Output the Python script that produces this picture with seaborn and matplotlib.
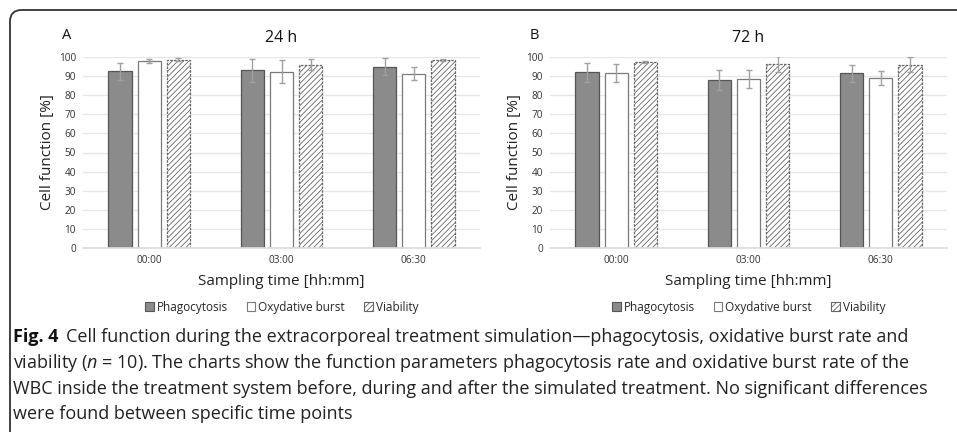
import numpy as np
import pandas as pd
import matplotlib.pyplot as plt
import seaborn as sns
from matplotlib.patches import FancyBboxPatch, Patch

sns.set_theme(style='white')
plt.rcParams['font.family'] = ['Open Sans', 'DejaVu Sans']
plt.rcParams['hatch.color'] = '#9a9a9a'
plt.rcParams['hatch.linewidth'] = 0.6
plt.rcParams['mathtext.fontset'] = 'custom'
plt.rcParams['mathtext.it'] = 'Open Sans:italic'
plt.rcParams['mathtext.rm'] = 'Open Sans'

times = ['00:00', '03:00', '06:30']
measures = ['Phagocytosis', 'Oxydative burst', 'Viability']

# 24 h panel: means and sd per measure, ordered by time
phago_24 = [92.5, 93.0, 95.0]
phago_24_sd = [4.5, 6.0, 4.5]
oxy_24 = [98.0, 92.3, 91.3]
oxy_24_sd = [1.0, 6.0, 3.5]
via_24 = [98.5, 96.0, 98.5]
via_24_sd = [0.8, 3.0, 0.5]

# 72 h panel
phago_72 = [92.0, 87.8, 91.5]
phago_72_sd = [5.0, 5.3, 4.5]
oxy_72 = [91.8, 88.7, 89.0]
oxy_72_sd = [4.7, 4.7, 3.7]
via_72 = [97.3, 96.3, 96.0]
via_72_sd = [0.4, 4.0, 4.0]

panels = [
    ('A', '24 h', [phago_24, oxy_24, via_24], [phago_24_sd, oxy_24_sd, via_24_sd]),
    ('B', '72 h', [phago_72, oxy_72, via_72], [phago_72_sd, oxy_72_sd, via_72_sd]),
]

faces = {'Phagocytosis': '#8b8b8b', 'Oxydative burst': '#ffffff', 'Viability': '#ffffff'}
edges = {'Phagocytosis': '#555555', 'Oxydative burst': '#7a7a7a', 'Viability': '#666666'}
hatches = {'Phagocytosis': None, 'Oxydative burst': None, 'Viability': '//////'}

W, H = 957, 432
fig = plt.figure(figsize=(W / 100, H / 100), dpi=100)

# rounded frame around the figure block
frame = FancyBboxPatch((10 / W, -0.2), 1.2, 1.2 - 10 / H,
                       boxstyle='round,pad=0,rounding_size=0.012',
                       transform=fig.transFigure, fill=False,
                       edgecolor='#333333', linewidth=1.3, mutation_aspect=W / H)
fig.patches.append(frame)

lefts = [83, 550]
for (letter, title, vals, sds), left in zip(panels, lefts):
    ax = fig.add_axes([left / W, 1 - 248 / H, 397 / W, 191 / H])
    rows = []
    for m, v in zip(measures, vals):
        for t, y in zip(times, v):
            rows.append({'time': t, 'measure': m, 'value': y})
    df = pd.DataFrame(rows)
    sns.barplot(data=df, x='time', y='value', hue='measure', hue_order=measures,
                order=times, errorbar=None, width=0.66, gap=0.2, ax=ax,
                legend=False)
    for m, cont, sd in zip(measures, ax.containers, sds):
        xs = []
        ys = []
        for bar in cont:
            bar.set_facecolor(faces[m])
            bar.set_edgecolor(edges[m])
            bar.set_linewidth(0.9)
            if hatches[m]:
                bar.set_hatch(hatches[m])
                bar.set_linestyle((0, (2, 1)))
            xs.append(bar.get_x() + bar.get_width() / 2)
            ys.append(bar.get_height())
        ax.errorbar(xs, ys, yerr=sd, fmt='none', ecolor='#a0a0a0',
                    elinewidth=1, capsize=2.5, capthick=1, zorder=5)

    ax.set_ylim(0, 100)
    ax.set_xlim(-0.5, 2.5)
    ax.set_yticks(np.arange(0, 101, 10))
    ax.yaxis.grid(True, color='#e6e6e6', linewidth=0.9)
    ax.set_axisbelow(True)
    for s in ['top', 'right', 'left']:
        ax.spines[s].set_visible(False)
    ax.spines['bottom'].set_color('#dddddd')
    ax.tick_params(axis='y', length=0, labelsize=7.2, colors='#333333', pad=5)
    ax.tick_params(axis='x', length=0, labelsize=7.2, colors='#333333', pad=5)
    ax.set_xlabel('Sampling time [hh:mm]', fontsize=11, color='#222222', labelpad=6)
    ax.set_ylabel('Cell function [%]', fontsize=11, color='#222222', labelpad=3)
    ax.set_title(title, fontsize=11.5, color='#111111', pad=11)
    ax.text(-0.04, 1.075, letter, transform=ax.transAxes, fontsize=10.5,
            color='#111111', ha='center', va='bottom')

    handles = [Patch(facecolor=faces[m], edgecolor=edges[m], hatch=hatches[m],
                     linewidth=0.8, label=m) for m in measures]
    ax.legend(handles=handles, loc='upper center', bbox_to_anchor=(0.5, -0.22),
              ncol=3, frameon=False, fontsize=8.5, handlelength=0.75,
              handleheight=0.75, handletextpad=0.25, columnspacing=1.6)

cap_size = 13
fig_lbl = fig.text(13 / W, 1 - 342 / H, 'Fig. 4', fontsize=cap_size, fontweight='bold',
                   va='baseline', color='#111111')
renderer = fig.canvas.get_renderer()
lbl_right = fig_lbl.get_window_extent(renderer).x1

lines = [
    'Cell function during the extracorporeal treatment simulation\u2014phagocytosis, oxidative burst rate and',
    r'viability ($n$ = 10). The charts show the function parameters phagocytosis rate and oxidative burst rate of the',
    'WBC inside the treatment system before, during and after the simulated treatment. No significant differences',
    'were found between specific time points',
]
ys = [342, 368, 394, 419]
xs = [lbl_right + 8, 13, 13, 13]
for txt, y, x in zip(lines, ys, xs):
    fig.text(x / W, 1 - y / H, txt, fontsize=cap_size,
             va='baseline', color='#222222')

fig.savefig('out.png', dpi=100)
